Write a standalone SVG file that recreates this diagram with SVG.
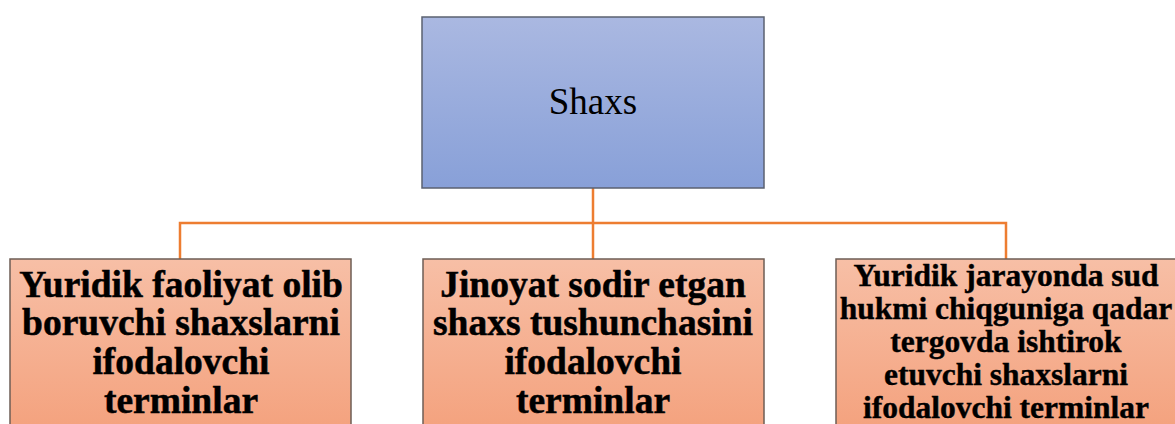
<svg xmlns="http://www.w3.org/2000/svg" width="1175" height="424" viewBox="0 0 1175 424">
<defs>
<linearGradient id="gBlue" x1="0" y1="0" x2="0" y2="1">
<stop offset="0" stop-color="#aab8e1"/>
<stop offset="1" stop-color="#88a0d8"/>
</linearGradient>
<linearGradient id="gOrange" x1="0" y1="0" x2="0" y2="1">
<stop offset="0" stop-color="#f7bfa6"/>
<stop offset="1" stop-color="#f4a27e"/>
</linearGradient>
</defs>
<style>
.blue{fill:url(#gBlue);stroke:#5b6170;stroke-width:1.5}
.org{fill:url(#gOrange);stroke:#6e5e55;stroke-width:1.5}
.conn{fill:none;stroke:#ed7d31;stroke-width:2.5}
.t{font-family:"Liberation Serif","Times New Roman",Times,serif;text-anchor:middle;fill:#000}
.b{font-weight:700;font-size:37.5px;stroke:#000;stroke-width:0.5}
.bs{font-weight:700;font-size:31.5px;stroke:#000;stroke-width:0.4}
</style>
<rect width="1175" height="424" fill="#fff"/>
<g id="connectors">
<path class="conn" d="M593,188 V259"/>
<path class="conn" d="M180,259 V223 H1006 V259"/>
</g>
<g id="node-shaxs">
<rect class="blue" x="422" y="17" width="342" height="171"/>
<text class="t" x="593" y="114" font-size="37">Shaxs</text>
</g>
<g id="node-left">
<rect class="org" x="10" y="259" width="341" height="170"/>
<text class="t b" x="181" y="297">Yuridik faoliyat olib</text>
<text class="t b" x="181" y="335">boruvchi shaxslarni</text>
<text class="t b" x="181" y="374">ifodalovchi</text>
<text class="t b" x="181" y="413">terminlar</text>
</g>
<g id="node-middle">
<rect class="org" x="423" y="259" width="341" height="170"/>
<text class="t b" x="593" y="297">Jinoyat sodir etgan</text>
<text class="t b" x="593" y="335">shaxs tushunchasini</text>
<text class="t b" x="593" y="374">ifodalovchi</text>
<text class="t b" x="593" y="413">terminlar</text>
</g>
<g id="node-right">
<rect class="org" x="836" y="259" width="341" height="170"/>
<text class="t bs" x="1006" y="286">Yuridik jarayonda sud</text>
<text class="t bs" x="1006" y="319">hukmi chiqguniga qadar</text>
<text class="t bs" x="1006" y="352">tergovda ishtirok</text>
<text class="t bs" x="1006" y="385">etuvchi shaxslarni</text>
<text class="t bs" x="1006" y="418">ifodalovchi terminlar</text>
</g>
</svg>
